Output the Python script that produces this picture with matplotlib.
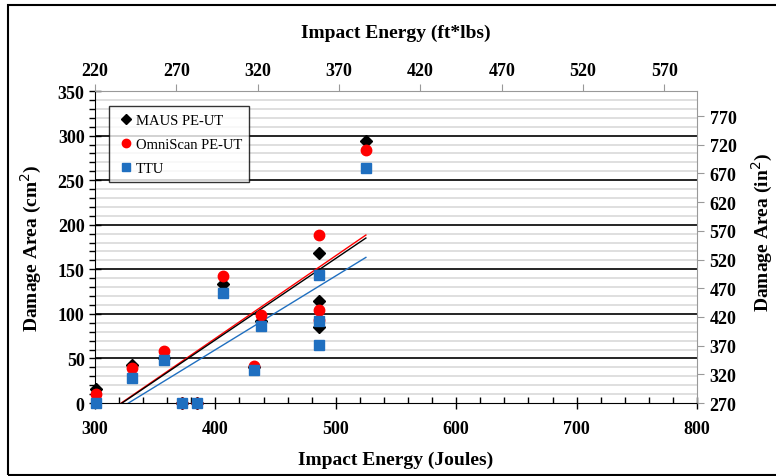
import numpy as np
import matplotlib
matplotlib.use("Agg")
import matplotlib.pyplot as plt
from matplotlib.patches import Rectangle
from matplotlib.ticker import MultipleLocator

plt.rcParams['font.family'] = ['Liberation Serif', 'DejaVu Serif']

# data (Joules, cm^2)
maus_x = [301, 331, 357, 372, 384.5, 406, 432, 438, 486, 486, 486, 525]
maus_y = [16, 43, 50, 0, 0, 134, 40, 92, 168, 115, 85, 294]
omni_x = [301, 331, 357, 372, 384.5, 406, 432, 438, 486, 486, 486, 525]
omni_y = [10, 39, 58, 0, 0, 143, 42, 99, 188, 104, 93, 284]
ttu_x = [301, 331, 357, 372, 384.5, 406, 432, 438, 486, 486, 486, 525]
ttu_y = [0, 28, 48, 0, 0, 123, 37, 86, 144, 92, 65, 264]

top_ticks = [220, 270, 320, 370, 420, 470, 520, 570]
right_ticks = [270, 320, 370, 420, 470, 520, 570, 620, 670, 720, 770]

fig = plt.figure(figsize=(7.76, 4.77), dpi=100)
ax = fig.add_axes([0.1224, 0.153, 0.7758, 0.654])

# gridlines
for v in range(10, 350, 10):
    if v % 50 == 0:
        ax.axhline(v, color='black', lw=1.2, zorder=1)
    else:
        ax.axhline(v, color='#d9d9d9', lw=1.2, zorder=0)

series = [
    (maus_x, maus_y, 'MAUS PE-UT', 'D', 'black', 6.5, 'black'),
    (omni_x, omni_y, 'OmniScan PE-UT', 'o', 'red', 7.5, 'red'),
    (ttu_x, ttu_y, 'TTU', 's', '#1f6fc0', 7.5, '#1f6fc0'),
]
for xs, ys, lab, mk, col, ms, lc in series:
    ax.plot(xs, ys, ls='none', marker=mk, color=col, ms=ms, label=lab, zorder=3,
            clip_on=False)

# linear trendlines
for xs, ys, lab, mk, col, ms, lc in [series[2], series[1], series[0]]:
    m, b = np.polyfit(xs, ys, 1)
    xx = np.array([min(xs), max(xs)])
    ax.plot(xx, m * xx + b, color=lc, lw=1.0, zorder=2)

ax.set_xlim(300, 800)
ax.set_ylim(0, 350)
ax.xaxis.set_major_locator(MultipleLocator(100))
ax.xaxis.set_minor_locator(MultipleLocator(20))
ax.yaxis.set_major_locator(MultipleLocator(50))
ax.yaxis.set_minor_locator(MultipleLocator(10))
ax.tick_params(axis='x', which='major', direction='inout', length=8, width=1, pad=8)
ax.tick_params(axis='x', which='minor', direction='in', length=4, width=1)
ax.tick_params(axis='y', which='major', direction='inout', length=8, width=1)
ax.tick_params(axis='y', which='minor', direction='out', length=4, width=1)
ax.tick_params(labelsize=13)
for t in ax.get_xticklabels() + ax.get_yticklabels():
    t.set_fontweight('bold')
ax.spines['top'].set_color('#999999')
ax.spines['right'].set_color('#999999')
ax.spines['left'].set_color('black')
ax.spines['bottom'].set_color('black')

ax.set_xlabel('Impact Energy (Joules)', fontsize=14, fontweight='bold', labelpad=10)
ax.set_ylabel('Damage Area (cm$^2$)', fontsize=14, fontweight='bold', labelpad=10)

# top axis (ft*lbs)
axt = ax.twiny()
axt.set_xlim(220, 590)
axt.set_xticks(top_ticks)
axt.tick_params(axis='x', direction='out', length=5, color='#999999', labelsize=13, pad=4)
for t in axt.get_xticklabels():
    t.set_fontweight('bold')
axt.set_xlabel('Impact Energy (ft*lbs)', fontsize=14, fontweight='bold', labelpad=18)
for s in axt.spines.values():
    s.set_visible(False)

# right axis (in^2)
axr = ax.twinx()
axr.set_ylim(270, 813.5)
axr.set_yticks(right_ticks)
axr.tick_params(axis='y', direction='out', length=5, color='#999999', labelsize=13, pad=4)
for t in axr.get_yticklabels():
    t.set_fontweight('bold')
axr.set_ylabel('Damage Area (in$^2$)', fontsize=14, fontweight='bold')
axr.yaxis.set_label_coords(1.088, 0.55)
for s in axr.spines.values():
    s.set_visible(False)

leg = ax.legend(loc='upper left', bbox_to_anchor=(0.012, 0.975), frameon=True,
                fancybox=False, edgecolor='black', fontsize=10.5, handletextpad=0.1,
                handlelength=1.2, borderpad=0.5, labelspacing=0.75, markerscale=0.8)
leg.get_frame().set_linewidth(1.0)
leg.set_zorder(5)

# outer border
fig.patches.append(Rectangle((8 / 776, 1 - 476 / 477), 1.0, 470 / 477, transform=fig.transFigure,
                             fill=False, edgecolor='black', lw=1.5))

fig.savefig('out.png', dpi=100)
